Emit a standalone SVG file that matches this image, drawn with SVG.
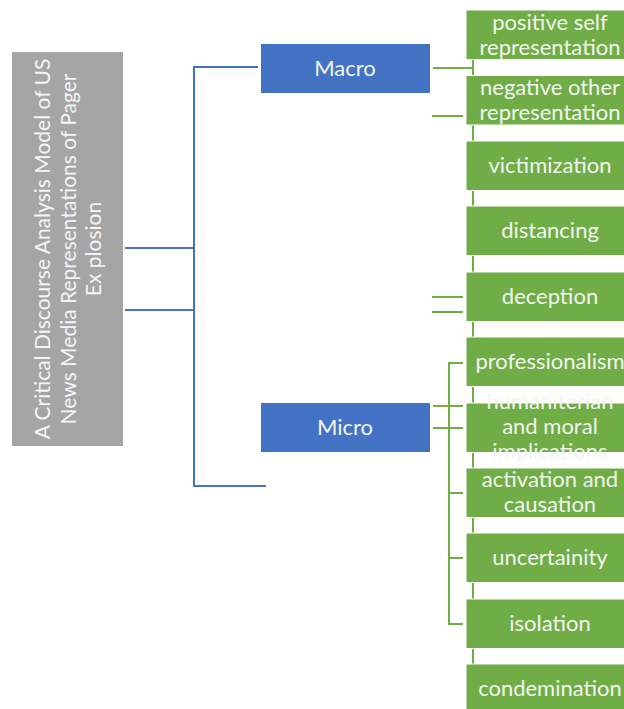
<svg xmlns="http://www.w3.org/2000/svg" width="624" height="709" viewBox="0 0 624 709">
<style>
.t{font-family:Lato,"Open Sans","Liberation Sans",sans-serif;font-size:22px;fill:#f2f5ef;text-anchor:middle}
.r{font-size:21px;fill:#f5f5f5}
.g{fill:#70ad47;stroke:#ffffff;stroke-width:1}
.b{fill:#4472c4}
.bl{stroke:#4472c4;stroke-width:2;fill:none}
.gl{stroke:#70ad47;stroke-width:2;fill:none}
</style>
<rect width="624" height="709" fill="#ffffff"/>
<g id="connectors">
<path class="bl" d="M125 248H194M125 310H194M258 67H194V486H266"/>
<path class="gl" d="M473 60V664"/>
<path class="gl" d="M433 68H473M432 116H463M432 297H463M432 312H463"/>
<path class="gl" d="M463 363H449V624H463M433 406H463M433 428H463M449 493H463M449 558H463"/>
</g>
<g id="root">
<rect x="12" y="52" width="111" height="394" fill="#a5a5a5"/>
<text class="t r" transform="translate(50 249) rotate(-90)">A Critical Discourse Analysis Model of US</text>
<text class="t r" transform="translate(76 249) rotate(-90)">News Media Representations of Pager</text>
<text class="t r" transform="translate(101 249) rotate(-90)">Ex plosion</text>
</g>
<g id="macro"><rect class="b" x="261" y="44" width="169" height="49"/><text class="t" x="345" y="76">Macro</text></g>
<g id="micro"><rect class="b" x="261" y="403" width="169" height="49"/><text class="t" x="345" y="435">Micro</text></g>
<g id="n1"><rect class="g" x="466" y="10" width="168" height="49.5"/><text class="t" x="550" y="30">positive self</text><text class="t" x="550" y="55">representation</text></g>
<g id="n2"><rect class="g" x="466" y="75.5" width="168" height="49.5"/><text class="t" x="550" y="95">negative other</text><text class="t" x="550" y="120">representation</text></g>
<g id="n3"><rect class="g" x="466" y="141" width="168" height="49.5"/><text class="t" x="550" y="173">victimization</text></g>
<g id="n4"><rect class="g" x="466" y="206" width="168" height="49.5"/><text class="t" x="550" y="238">distancing</text></g>
<g id="n5"><rect class="g" x="466" y="272" width="168" height="49.5"/><text class="t" x="550" y="304">deception</text></g>
<g id="n6"><rect class="g" x="466" y="337" width="168" height="49.5"/><text class="t" x="550" y="369">professionalism</text></g>
<g id="n7"><rect class="g" x="466" y="403" width="168" height="49.5"/><text class="t" x="550" y="409">humaniterian</text><text class="t" x="550" y="434">and moral</text><text class="t" x="550" y="459">implications</text></g>
<g id="n8"><rect class="g" x="466" y="468" width="168" height="49.5"/><text class="t" x="550" y="487">activation and</text><text class="t" x="550" y="512">causation</text></g>
<g id="n9"><rect class="g" x="466" y="533" width="168" height="49.5"/><text class="t" x="550" y="565">uncertainity</text></g>
<g id="n10"><rect class="g" x="466" y="599" width="168" height="49.5"/><text class="t" x="550" y="631">isolation</text></g>
<g id="n11"><rect class="g" x="466" y="664" width="168" height="49.5"/><text class="t" x="550" y="696">condemination</text></g>
</svg>
